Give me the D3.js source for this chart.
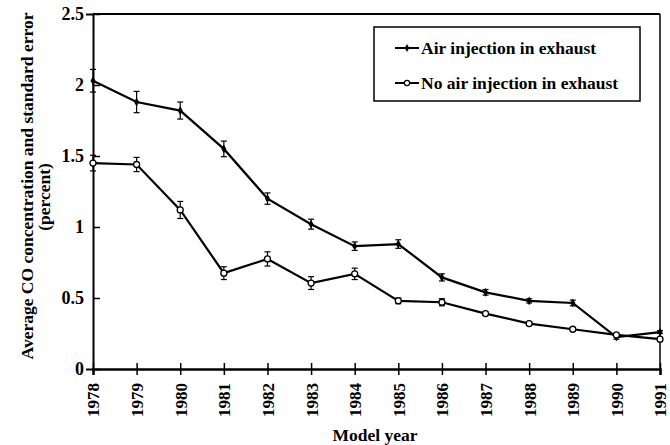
<!DOCTYPE html>
<html><head><meta charset="utf-8">
<script src="https://cdn.jsdelivr.net/npm/d3@7"></script>
<style>
body{margin:0;background:#fff;}
svg text{font-family:"Liberation Serif","Times New Roman",serif;font-weight:bold;fill:#000;}
</style></head>
<body><svg id="c" width="670" height="445"></svg>
<script>
const years = [1978,1979,1980,1981,1982,1983,1984,1985,1986,1987,1988,1989,1990,1991];
const airValues = [2.03,1.88,1.82,1.55,1.20,1.02,0.865,0.88,0.645,0.54,0.48,0.465,0.225,0.26];
const airErrors = [0.08,0.075,0.06,0.055,0.04,0.035,0.03,0.03,0.025,0.02,0.015,0.02,0.015,0.01];
const noAirValues = [1.45,1.44,1.12,0.675,0.775,0.605,0.67,0.48,0.47,0.39,0.32,0.28,0.24,0.21];
const noAirErrors = [0.055,0.05,0.06,0.045,0.05,0.045,0.04,0.02,0.025,0.01,0.01,0.01,0.01,0.01];
const yTicks = [0,0.5,1,1.5,2,2.5];
const yTickLabels = ["0","0.5","1","1.5","2","2.5"];
const seriesNames = ["Air injection in exhaust","No air injection in exhaust"];
const xTitle = "Model year";
const yTitle1 = "Average CO concentration and standard error";
const yTitle2 = "(percent)";

const svg = d3.select("#c");
const x = d3.scaleLinear().domain([1978,1991]).range([93,660]);
const y = d3.scaleLinear().domain([0,2.5]).range([369,14]);

// frame (top and right)
svg.append("line").attr("x1",x(1978)).attr("x2",x(1991)).attr("y1",y(2.5)).attr("y2",y(2.5)).attr("stroke","#000").attr("stroke-width",2);
svg.append("line").attr("x1",x(1991)).attr("x2",x(1991)).attr("y1",y(2.5)).attr("y2",y(0)).attr("stroke","#000").attr("stroke-width",1.5);

// y axis
const yAxis = svg.append("g").attr("transform",`translate(${x(1978)},0)`)
  .call(d3.axisLeft(y).tickValues(yTicks).tickSize(7).tickPadding(2).tickFormat((d,i)=>yTickLabels[i]));
yAxis.select(".domain").attr("stroke","#000").attr("stroke-width",2);
yAxis.selectAll(".tick line").attr("x2",7).attr("stroke-width",1.5);
yAxis.selectAll(".tick text").style("font-size","18px").style("font-family","Liberation Serif").style("font-weight","bold");

// x axis
const xAxis = svg.append("g").attr("transform",`translate(0,${y(0)})`)
  .call(d3.axisBottom(x).tickValues(years).tickSize(6).tickFormat(d3.format("d")));
xAxis.select(".domain").attr("stroke","#000").attr("stroke-width",2.5);
xAxis.selectAll(".tick line").attr("y1",-6).attr("stroke-width",1.5);
xAxis.selectAll(".tick text")
  .attr("transform","translate(0,14) rotate(-90)")
  .attr("x",0).attr("y",0).attr("dy","0.35em")
  .attr("text-anchor","end")
  .style("font-size","17px").style("font-family","Liberation Serif").style("font-weight","bold");

// titles
svg.append("text").attr("x",375).attr("y",441).attr("text-anchor","middle").style("font-size","17.5px").text(xTitle);
svg.append("text").attr("transform","translate(33,186) rotate(-90)").attr("text-anchor","middle").style("font-size","17.5px").text(yTitle1);
svg.append("text").attr("transform","translate(50,197) rotate(-90)").attr("text-anchor","middle").style("font-size","17.5px").text(yTitle2);

function drawSeries(vals, errs, open){
  const data = years.map((yr,i)=>({yr, v:vals[i], e:errs[i]}));
  const g = svg.append("g");
  const eb = g.selectAll(".eb").data(data).enter().append("g").attr("stroke","#000").attr("stroke-width",1.2);
  eb.append("line").attr("x1",d=>x(d.yr)).attr("x2",d=>x(d.yr)).attr("y1",d=>y(d.v-d.e)).attr("y2",d=>y(d.v+d.e));
  eb.append("line").attr("x1",d=>x(d.yr)-3).attr("x2",d=>x(d.yr)+3).attr("y1",d=>y(d.v+d.e)).attr("y2",d=>y(d.v+d.e));
  eb.append("line").attr("x1",d=>x(d.yr)-3).attr("x2",d=>x(d.yr)+3).attr("y1",d=>y(d.v-d.e)).attr("y2",d=>y(d.v-d.e));
  g.append("path").datum(data).attr("fill","none").attr("stroke","#000").attr("stroke-width",2.2)
    .attr("d",d3.line().x(d=>x(d.yr)).y(d=>y(d.v)));
  if(open){
    g.selectAll("circle").data(data).enter().append("circle").attr("cx",d=>x(d.yr)).attr("cy",d=>y(d.v)).attr("r",3)
      .attr("fill","#fff").attr("stroke","#000").attr("stroke-width",1.3);
  } else {
    g.selectAll(".m").data(data).enter().append("path")
      .attr("transform",d=>`translate(${x(d.yr)},${y(d.v)})`)
      .attr("d",d3.symbol(d3.symbolDiamond,22)).attr("fill","#000");
  }
}
drawSeries(airValues, airErrors, false);
drawSeries(noAirValues, noAirErrors, true);

// legend
const lg = svg.append("g");
lg.append("rect").attr("x",374).attr("y",27).attr("width",266).attr("height",74).attr("fill","#fff").attr("stroke","#000").attr("stroke-width",1.5);
seriesNames.forEach((nm,i)=>{
  const cy = 48 + i*35;
  lg.append("line").attr("x1",395).attr("x2",419).attr("y1",cy).attr("y2",cy).attr("stroke","#000").attr("stroke-width",2);
  if(i===0) lg.append("path").attr("transform",`translate(407,${cy})`).attr("d",d3.symbol(d3.symbolDiamond,18)).attr("fill","#000");
  else lg.append("circle").attr("cx",407).attr("cy",cy).attr("r",2.6).attr("fill","#fff").attr("stroke","#000").attr("stroke-width",1.2);
  lg.append("text").attr("x",421).attr("y",cy).attr("dy","0.35em").style("font-size","17.5px").text(nm);
});
</script></body></html>
